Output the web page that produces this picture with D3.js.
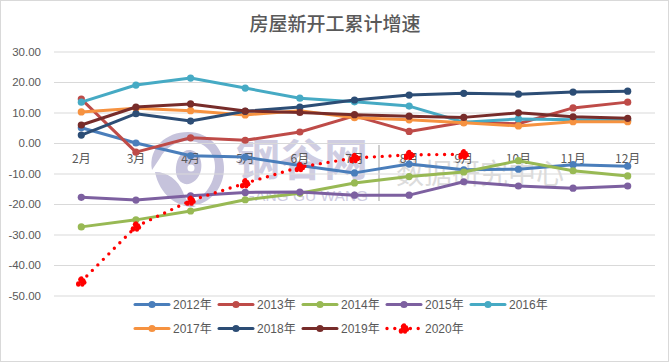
<!DOCTYPE html>
<html>
<head>
<meta charset="utf-8">
<script src="https://cdn.jsdelivr.net/npm/d3@7"></script>
<style>
html, body { margin: 0; padding: 0; background: #fff; }
svg { display: block; }
text { font-family: "Liberation Sans", "Noto Sans CJK SC", sans-serif; }
</style>
</head>
<body>
<div id="chart"></div>
<script>
const months = ["2月", "3月", "4月", "5月", "6月", "7月", "8月", "9月", "10月", "11月", "12月"];
const yTicks = [30, 20, 10, 0, -10, -20, -30, -40, -50];
const years = ["2012年", "2013年", "2014年", "2015年", "2016年", "2017年", "2018年", "2019年", "2020年"];
const v2012 = [5.0, 0.0, -4.2, -4.6, -7.4, -9.8, -6.9, -8.8, -8.6, -7.1, -7.6];
const v2013 = [14.4, -3.0, 1.7, 0.9, 3.6, 8.9, 3.8, 6.8, 6.3, 11.5, 13.4];
const v2014 = [-27.5, -25.2, -22.3, -18.6, -16.5, -13.1, -11.0, -9.5, -5.8, -9.1, -10.8];
const v2015 = [-17.8, -18.7, -17.3, -16.2, -16.1, -17.1, -17.1, -12.7, -14.1, -14.8, -14.1];
const v2016 = [13.4, 19.0, 21.3, 18.0, 14.7, 13.5, 12.1, 6.8, 7.9, 7.6, 7.5];
const v2017 = [10.2, 11.4, 10.6, 9.2, 10.6, 8.3, 7.6, 6.6, 5.6, 7.0, 7.0];
const v2018 = [2.6, 9.6, 7.2, 10.4, 11.8, 14.1, 15.7, 16.3, 16.0, 16.7, 17.0];
const v2019 = [5.9, 11.8, 12.8, 10.5, 10.0, 9.3, 8.8, 8.4, 9.9, 8.6, 8.1];
const v2020 = [-45.4, -27.4, -18.9, -13.2, -7.9, -4.9, -3.9, -3.7];
const allValues = [v2012, v2013, v2014, v2015, v2016, v2017, v2018, v2019, v2020];
const colors = ["#4a7ebb", "#be4b48", "#98b954", "#7d60a0", "#46aac4", "#f69240", "#2c4d75", "#772c2a", "#ff0000"];

const width = 670, height = 362;
const svg = d3.select("#chart").append("svg").attr("width", width).attr("height", height);

// outer border
svg.append("rect")
    .attr("x", 0.5).attr("y", 0.5)
    .attr("width", width - 2).attr("height", height - 1)
    .attr("fill", "#fff").attr("stroke", "#d9d9d9");

// title
svg.append("text")
    .attr("x", 335).attr("y", 31)
    .attr("text-anchor", "middle")
    .attr("font-size", "19px")
    .attr("font-weight", "500")
    .attr("fill", "#595959")
    .style("font-family", '"Noto Sans CJK SC", sans-serif')
    .text("房屋新开工累计增速");

const xScale = d3.scaleBand().domain(months).range([54, 655]);
const yScale = d3.scaleLinear().domain([-50, 30]).range([295.5, 51.5]);

// watermark, sits under the lines
const mark = svg.append("g");
const markColor = "#cfcde2";
// outer ring of the logo, open at the lower left
mark.append("path")
    .attr("fill", "#c6c3dc")
    .attr("d", "M152,170 C148,148 166,132 188,132 C210,132 225,150 224,170 C223,190 208,206 188,206 C203,198 214,186 215,168 C216,152 203,141 188,141 C176,141 165,148 160,158 Z");
// swoosh under the bird
mark.append("path")
    .attr("fill", "#c6c3dc")
    .attr("d", "M155,172 C168,172 178,180 183,192 C185,198 188,204 196,207 C178,208 160,196 155,172 Z");
// inner swirl
mark.append("path")
    .attr("fill", "#c6c3dc")
    .attr("d", "M189,150 C198,150 203,160 201,170 C199,180 191,185 185,184 C178,182 175,175 176,167 C177,158 182,150 189,150 Z");
mark.append("circle").attr("cx", 191).attr("cy", 168).attr("r", 3.5).attr("fill", "#fff");

// y axis + gridlines
const yAxis = svg.append("g")
    .attr("transform", "translate(54,0)")
    .call(d3.axisLeft(yScale).tickValues(yTicks).tickFormat(d3.format(".2f")).tickSize(-601).tickPadding(13));
yAxis.select(".domain").remove();
yAxis.selectAll("line").attr("stroke", "#d9d9d9").attr("stroke-width", 1.2);
yAxis.selectAll("text").attr("fill", "#595959").attr("font-size", "11.5px").text(d => d3.format(".2f")(d).replace("−", "-"));

mark.append("text").attr("x", 236).attr("y", 176)
    .attr("font-size", "44px").attr("font-weight", "bold").attr("fill", markColor)
    .style("font-family", '"Noto Sans CJK SC", sans-serif').text("钢谷网");
mark.append("text").attr("x", 243).attr("y", 201)
    .attr("font-size", "15.5px").attr("fill", markColor).text("GANG GU WANG");
mark.append("rect").attr("x", 378).attr("y", 145).attr("width", 2).attr("height", 56).attr("fill", "#cfcfcf");
mark.append("text").attr("x", 396).attr("y", 184)
    .attr("font-size", "28px").attr("fill", "#dcdcdc")
    .style("font-family", '"Noto Sans CJK SC", sans-serif').text("数据研究中心");

// month labels sit just below the zero line
const xAxis = svg.append("g")
    .attr("transform", `translate(0,${yScale(0)})`)
    .call(d3.axisBottom(xScale).tickSize(0).tickPadding(11));
xAxis.select(".domain").remove();
xAxis.selectAll("text").attr("fill", "#595959").attr("font-size", "12px")
    .style("font-family", '"Noto Sans CJK SC", sans-serif');

const line = d3.line()
    .x((d, i) => xScale(months[i]) + xScale.bandwidth() / 2)
    .y(d => yScale(d));

// rough blob used as the 2020 marker
const blob = [[-3, 2], [0, 0], [3, 1], [-1, -2], [1, 3], [-3, 3], [2, -1], [0, -3]];

function drawMarker(g, x, y, i) {
    if (i === 8) {
        g.selectAll(null).data(blob).join("circle")
            .attr("cx", d => x + d[0]).attr("cy", d => y + d[1]).attr("r", 2.2).attr("fill", colors[8]);
    } else {
        g.append("circle").attr("cx", x).attr("cy", y).attr("r", 3.6).attr("fill", colors[i]);
    }
}

allValues.forEach((values, i) => {
    const g = svg.append("g");
    const path = g.append("path")
        .attr("d", line(values))
        .attr("fill", "none")
        .attr("stroke", colors[i])
        .attr("stroke-linejoin", "round");
    if (i === 8) {
        path.attr("stroke-width", 3.4).attr("stroke-linecap", "round").attr("stroke-dasharray", "0 7.8");
    } else {
        path.attr("stroke-width", 3).attr("stroke-linecap", "round");
    }
    values.forEach((v, j) => drawMarker(g, xScale(months[j]) + xScale.bandwidth() / 2, yScale(v), i));
});

// legend
const legendX = d3.scalePoint().domain(d3.range(5)).range([134, 470]);
const legendY = d3.scalePoint().domain([0, 1]).range([304.5, 328.5]);
years.forEach((name, i) => {
    const x = legendX(i % 5), y = legendY(Math.floor(i / 5));
    const g = svg.append("g");
    const sw = g.append("line")
        .attr("x1", x + 1).attr("x2", x + 35).attr("y1", y).attr("y2", y)
        .attr("stroke", colors[i]);
    if (i === 8) {
        sw.attr("stroke-width", 3.4).attr("stroke-linecap", "round").attr("stroke-dasharray", "0 7.8");
    } else {
        sw.attr("stroke-width", 3).attr("stroke-linecap", "round");
    }
    drawMarker(g, x + 18, y, i);
    g.append("text")
        .attr("x", x + 39).attr("y", y + 4.5)
        .attr("font-size", "12px")
        .attr("fill", "#595959")
        .text(name);
});
</script>
</body>
</html>
